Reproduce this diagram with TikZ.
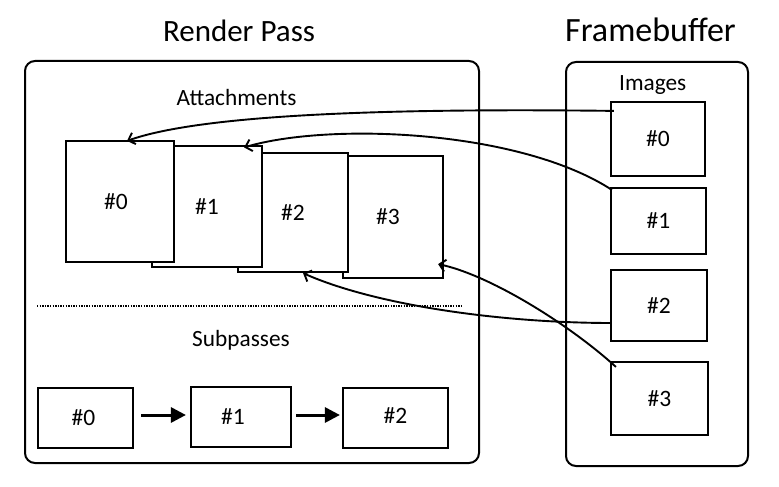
\documentclass[tikz,border=0pt]{standalone}
\usepackage{fontspec}
\setmainfont{Carlito}
\usetikzlibrary{arrows.meta,calc}
\begin{document}
\begin{tikzpicture}[x=1pt,y=-1pt,
  frame/.style={draw, line width=2pt, rounded corners=10pt, inner sep=0pt},
  title/.style={inner sep=0pt, anchor=base, font=\fontsize{31}{36}\selectfont},
  lbl/.style={inner sep=0pt, anchor=base, font=\fontsize{23.3}{28}\selectfont},
  abox/.style={draw, fill=white, line width=2.2pt, inner sep=0pt, font=\fontsize{23.5}{28}\selectfont},
  conn/.style={line width=1.9pt, -{Straight Barb[length=6pt,width=12pt]}},
  subarrow/.style={line width=3pt, -{Triangle[length=15pt,width=15pt]}},
  sep/.style={line width=2pt, dash pattern=on 1.3pt off 1.3pt}
]
\useasboundingbox (0,0) rectangle (779,487);

% frames
\node[frame, minimum width=454pt, minimum height=402pt] (rp) at (252,262) {};
\node[frame, minimum width=182pt, minimum height=404pt] (fb) at (657,264) {};

% titles
\node[title] (rptitle) at (239,41.5) {Render Pass};
\node[title, font=\fontsize{34}{40}\selectfont] (fbtitle) at (650.5,41.5) {Framebuffer};

% labels
\node[lbl] (att) at (236.5,105) {Attachments};
\node[lbl] (img) at (652.7,91) {Images};
\node[lbl] (sub) at (241,346.7) {Subpasses};

% attachments (back to front)
\node[abox, minimum width=100pt, minimum height=122pt] (a3) at (393,217) {\#3\hspace*{10pt}};
\node[abox, minimum width=110pt, minimum height=119pt] (a2) at (293,212.5) {\#2};
\node[abox, minimum width=110pt, minimum height=121pt] (a1) at (207,206.5) {\#1};
\node[abox, minimum width=108pt, minimum height=121pt] (a0) at (120,201.5) {\#0\hspace*{8pt}};

% framebuffer images
\node[abox, minimum width=94pt, minimum height=74pt] (f0) at (658,139) {\#0};
\node[abox, minimum width=95pt, minimum height=66pt] (f1) at (658.5,221) {\#1};
\node[abox, minimum width=96pt, minimum height=71pt] (f2) at (659,305.5) {\#2};
\node[abox, minimum width=97pt, minimum height=73pt] (f3) at (659.5,398.5) {\#3};

% separator
\coordinate (dl) at (37,305.7);
\coordinate (dr) at (463,305.7);
\draw[sep] (dl) -- (dr);

% subpasses
\node[abox, minimum width=95pt, minimum height=60pt] (s0) at (85.5,418) {\raisebox{-3pt}{\#0}\hspace*{4pt}};
\node[abox, minimum width=100pt, minimum height=60pt] (s1) at (241,417) {\#1\hspace*{16pt}};
\node[abox, minimum width=105pt, minimum height=60pt] (s2) at (395.5,418) {\raisebox{5pt}{\#2}};

\draw[subarrow] ($(s0.east)+(7,-3)$) -- ($(s1.west)+(-4,-2)$);
\draw[subarrow] ($(s1.east)+(4,-2)$) -- ($(s2.west)+(-2,-3)$);

% connectors
\draw[conn] ($(f0.north west)+(4,10)$) .. controls (380,108) and (200,115) .. ($(a0.north)+(7,1)$);
\draw[conn] ($(f1.north west)+(2,3)$) .. controls (520,130) and (330,122) .. ($(a1.north east)+(-19,2.5)$);
\draw[conn] ($(f2.west)+(2,17.5)$) .. controls (500,323) and (375,305) .. ($(a2.south)+(10,0)$);
\draw[conn] ($(f3.north west)+(6,6)$) .. controls (570,325) and (490,275) .. ($(a3.south east)+(-6,-15)$);
\end{tikzpicture}
\end{document}
